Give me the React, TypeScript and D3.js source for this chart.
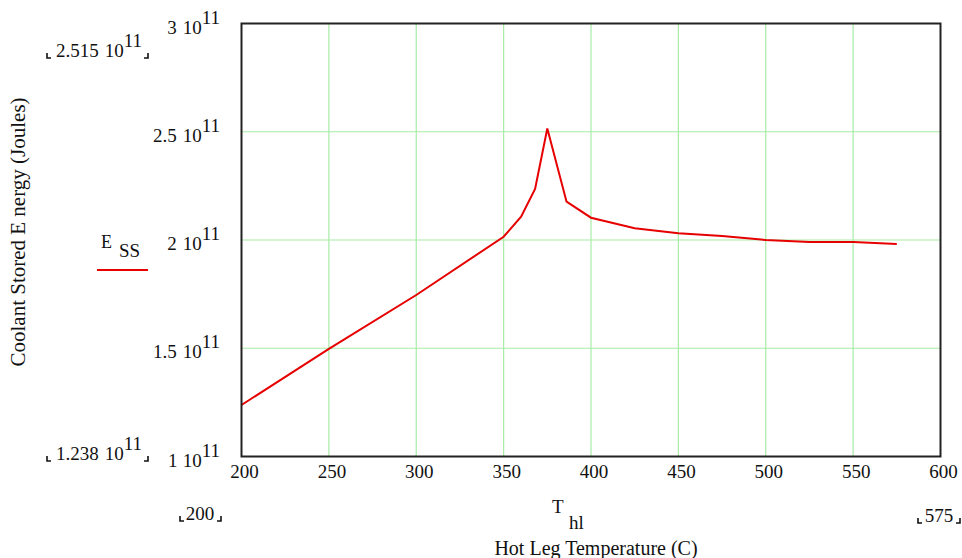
import React from "react";
import * as d3 from "d3";

// hot leg temperature (C) and coolant stored energy (J)
const temps = [200, 250, 300, 350, 360, 368, 375, 386, 400, 425, 450, 475, 500, 525, 550, 575];
const energy = [
  1.238e11, 1.497e11, 1.746e11, 2.015e11, 2.108e11, 2.236e11, 2.515e11, 2.177e11,
  2.103e11, 2.054e11, 2.031e11, 2.018e11, 2.0e11, 1.991e11, 1.991e11, 1.982e11,
];
const xTicks = [200, 250, 300, 350, 400, 450, 500, 550, 600];
const yTicks = [1e11, 1.5e11, 2e11, 2.5e11, 3e11];

const W = 962;
const H = 558;
const font = "'Liberation Serif', 'Times New Roman', serif";

// scientific label as Mathcad shows it: "2.5 10^11"
function Sci({ v, x, y, anchor = "end" }: { v: number; x: number; y: number; anchor?: string }) {
  const exp = Math.floor(Math.log10(v));
  const mant = +(v / Math.pow(10, exp)).toFixed(3);
  return (
    <text x={x} y={y} textAnchor={anchor} fontFamily={font} fontSize={19} fill="#111">
      <tspan>{mant}</tspan>
      <tspan dx={6}>10</tspan>
      <tspan dy={-10}>{exp}</tspan>
    </text>
  );
}

// little corner marks around the range labels
function Corners({ x0, x1, y }: { x0: number; x1: number; y: number }) {
  return (
    <g stroke="#111" strokeWidth={1.6} fill="none">
      <path d={`M${x0},${y - 5}V${y}H${x0 + 4}`} />
      <path d={`M${x1 - 4},${y}H${x1}V${y - 5}`} />
    </g>
  );
}

export default function App() {
  const x = d3.scaleLinear().domain([200, 600]).range([241.5, 940.5]);
  const y = d3.scaleLinear().domain([1e11, 3e11]).range([456.5, 23.5]);

  const pts = temps.map((t, i) => [t, energy[i]] as [number, number]);
  const line = d3
    .line<[number, number]>()
    .x((d) => x(d[0]))
    .y((d) => y(d[1]));

  const yMax = d3.max(energy)!;
  const yMin = d3.min(energy)!;
  const xMin = d3.min(temps)!;
  const xMax = d3.max(temps)!;

  return (
    <svg width={W} height={H} style={{ position: "absolute", left: 0, top: 0 }}>
      <rect width={W} height={H} fill="#fff" />

      {/* grid */}
      <g stroke="#a6eca6" strokeWidth={1.2}>
        {xTicks.slice(1, -1).map((t) => (
          <line key={t} x1={x(t)} x2={x(t)} y1={y(3e11)} y2={y(1e11)} />
        ))}
        {yTicks.slice(1, -1).map((t) => (
          <line key={t} x1={x(200)} x2={x(600)} y1={y(t)} y2={y(t)} />
        ))}
      </g>

      {/* series */}
      <path d={line(pts)!} fill="none" stroke="#e60000" strokeWidth={2} />

      {/* frame */}
      <rect
        x={x(200)}
        y={y(3e11)}
        width={x(600) - x(200)}
        height={y(1e11) - y(3e11)}
        fill="none"
        stroke="#222"
        strokeWidth={2}
      />

      {/* x tick labels */}
      {xTicks.map((t) => (
        <text key={t} x={x(t) + 3} y={478} textAnchor="middle" fontFamily={font} fontSize={19} fill="#111">
          {t}
        </text>
      ))}

      {/* y tick labels */}
      {yTicks.map((t) => (
        <Sci key={t} v={t} x={220} y={y(t) + 10} />
      ))}

      {/* y range labels */}
      <Sci v={yMax} x={142} y={57} />
      <Corners x0={47} x1={148} y={58} />
      <Sci v={yMin} x={142} y={460} />
      <Corners x0={47} x1={148} y={461} />

      {/* x range labels */}
      <text x={200} y={520} textAnchor="middle" fontFamily={font} fontSize={19} fill="#111">
        {xMin}
      </text>
      <Corners x0={180} x1={221} y={521} />
      <text x={939} y={522} textAnchor="middle" fontFamily={font} fontSize={19} fill="#111">
        {xMax}
      </text>
      <Corners x0={918} x1={960} y={523} />

      {/* x axis variable and title */}
      <text x={552} y={513} fontFamily={font} fontSize={19} fill="#111">
        T
      </text>
      <text x={569} y={529} fontFamily={font} fontSize={19} fill="#111">
        hl
      </text>
      <text x={596} y={555} textAnchor="middle" fontFamily={font} fontSize={20} fill="#111">
        Hot Leg Temperature (C)
      </text>

      {/* y axis title */}
      <text
        transform="translate(25,232) rotate(-90)"
        textAnchor="middle"
        fontFamily={font}
        fontSize={21}
        fill="#111"
      >
        Coolant Stored E nergy (Joules)
      </text>

      {/* legend */}
      <text x={101} y={248} fontFamily={font} fontSize={18} fill="#111">
        E
      </text>
      <text x={119} y={257} fontFamily={font} fontSize={19} fill="#111">
        SS
      </text>
      <line x1={97} x2={148} y1={270} y2={270} stroke="#e60000" strokeWidth={2} />
    </svg>
  );
}
